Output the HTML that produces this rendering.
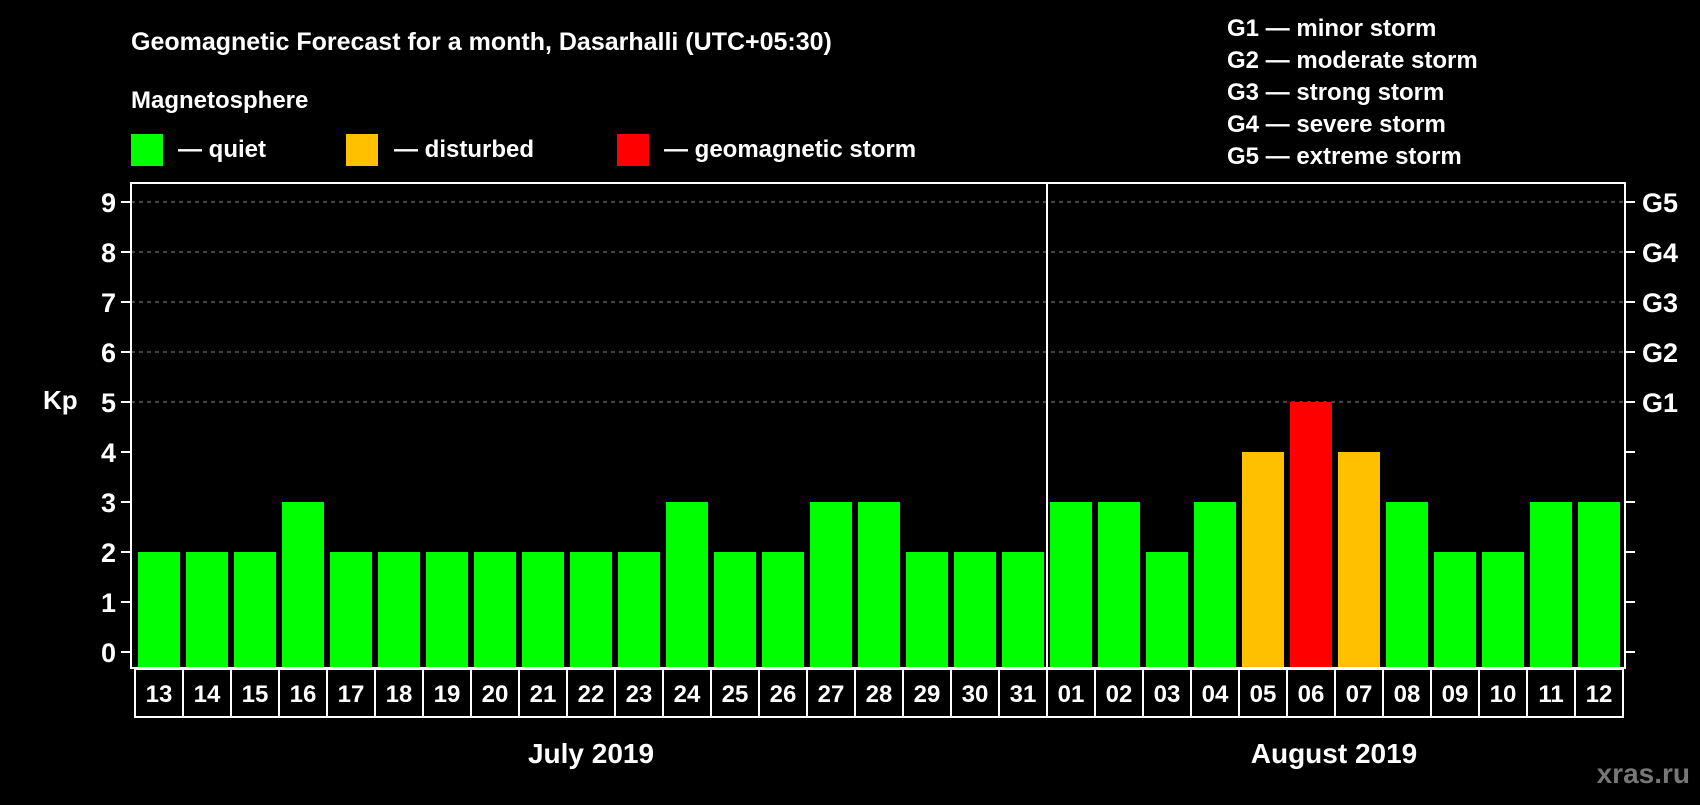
<!DOCTYPE html>
<html><head><meta charset="utf-8"><style>
body{margin:0;background:#000;}
svg text{font-family:"Liberation Sans",Arial,sans-serif;font-weight:bold;fill:#fff;}
</style></head><body>
<svg id="chart" width="1700" height="800" xmlns="http://www.w3.org/2000/svg">
<rect width="1700" height="800" fill="#000"/>
<text x="131" y="50" font-size="25">Geomagnetic Forecast for a month, Dasarhalli (UTC+05:30)</text>
<text x="131" y="108" font-size="24">Magnetosphere</text>
<g><rect x="131" y="134" width="32" height="32" fill="#00ff00"/><text x="178" y="157" font-size="24">— quiet</text></g>
<g><rect x="346" y="134" width="32" height="32" fill="#ffc000"/><text x="394" y="157" font-size="24">— disturbed</text></g>
<g><rect x="617" y="134" width="32" height="32" fill="#ff0000"/><text x="664" y="157" font-size="24">— geomagnetic storm</text></g>
<g font-size="24">
<text x="1227" y="36">G1 — minor storm</text>
<text x="1227" y="68">G2 — moderate storm</text>
<text x="1227" y="100">G3 — strong storm</text>
<text x="1227" y="132">G4 — severe storm</text>
<text x="1227" y="164">G5 — extreme storm</text>
</g>
<text x="43" y="409" font-size="26">Kp</text>
<g id="grid"></g><g id="bars"></g><g id="axes"></g>
<text x="591" y="763" font-size="28" text-anchor="middle">July 2019</text>
<text x="1334" y="763" font-size="28" text-anchor="middle">August 2019</text>
<text x="1690" y="783" font-size="28" text-anchor="end" fill="#777" style="fill:#777">xras.ru</text>
</svg>
<script>
const days = ["13","14","15","16","17","18","19","20","21","22","23","24","25","26","27","28","29","30","31","01","02","03","04","05","06","07","08","09","10","11","12"];
const kpValues = [2,2,2,3,2,2,2,2,2,2,2,3,2,2,3,3,2,2,2,3,3,2,3,4,5,4,3,2,2,3,3];
const yTicks = [0,1,2,3,4,5,6,7,8,9];
const stormLabels = ["G1","G2","G3","G4","G5"];
const stormLevels = [5,6,7,8,9];
const monthSplit = 19;

const NS="http://www.w3.org/2000/svg";
const x0=135, slot=48, plotL=131, plotR=1625, plotT=183, plotB=668;
const yScale = v => 652 - v*50;
const xScale = i => x0 + i*slot;
function mk(tag, attrs, parent){const e=document.createElementNS(NS,tag);for(const k in attrs)e.setAttribute(k,attrs[k]);parent.appendChild(e);return e;}
const grid=document.getElementById('grid'), bars=document.getElementById('bars'), axes=document.getElementById('axes');

stormLevels.forEach(v=>{
  const l=mk('line',{x1:plotL,x2:plotR,y1:yScale(v),y2:yScale(v),stroke:'#888','stroke-dasharray':'4,4','stroke-width':1},grid);
  
  
});
kpValues.forEach((v,i)=>{
  const c = v>=5?'#ff0000':(v>=4?'#ffc000':'#00ff00');
  const r=mk('rect',{x:xScale(i)+3,y:yScale(v),width:42,height:plotB-yScale(v),fill:c},bars);
  
  
  const b=mk('rect',{x:xScale(i),y:669,width:slot,height:48,fill:'none',stroke:'#fff','stroke-width':2},axes);
  
  
  const t=mk('text',{x:xScale(i)+slot/2,y:702,'font-size':24,'text-anchor':'middle'},axes);
  t.textContent=days[i];
  
  
});
const frame=mk('rect',{x:plotL,y:plotT,width:plotR-plotL,height:plotB-plotT,fill:'none',stroke:'#fff','stroke-width':2},axes);


const div=mk('line',{x1:xScale(monthSplit),x2:xScale(monthSplit),y1:plotT,y2:plotB,stroke:'#fff','stroke-width':2},axes);


yTicks.forEach(v=>{
  mk('line',{x1:121,x2:plotL,y1:yScale(v),y2:yScale(v),stroke:'#fff','stroke-width':2},axes);
  mk('line',{x1:plotR,x2:1635,y1:yScale(v),y2:yScale(v),stroke:'#fff','stroke-width':2},axes);
  const t=mk('text',{x:116,y:yScale(v)+10,'font-size':27,'text-anchor':'end'},axes);
  t.textContent=v;
  
  
});
stormLevels.forEach((v,i)=>{
  const t=mk('text',{x:1642,y:yScale(v)+10,'font-size':27},axes);
  t.textContent=stormLabels[i];
  
  
});
</script>
</body></html>
